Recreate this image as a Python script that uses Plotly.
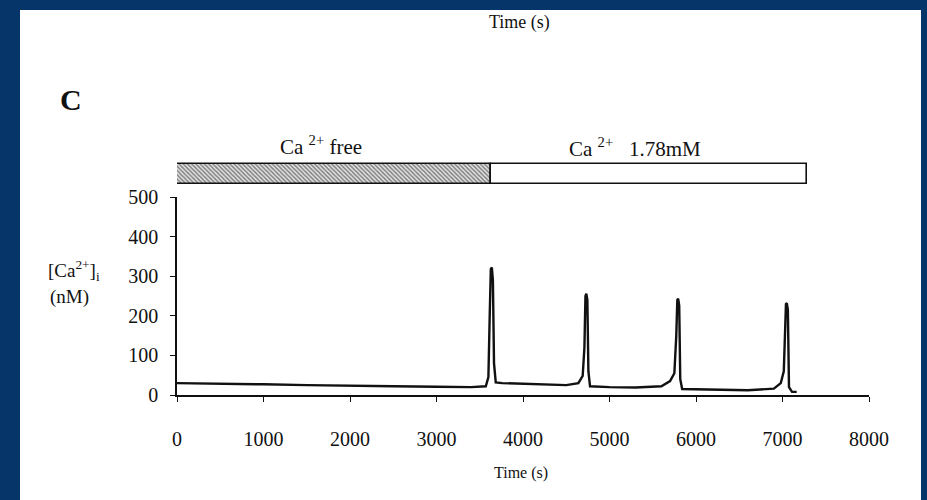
import plotly.graph_objects as go

# ---- data ----
time_s = [0, 500, 1000, 1500, 2000, 2500, 3000, 3400, 3570, 3600, 3615, 3628, 3640, 3652, 3665, 3685,
          3760, 4000, 4300, 4500, 4640, 4690, 4710, 4722, 4732, 4744, 4756, 4775,
          5000, 5300, 5600, 5700, 5750, 5772, 5784, 5794, 5806, 5818, 5840,
          6200, 6600, 6900, 6980, 7015, 7030, 7040, 7050, 7062, 7075, 7110, 7164]
ca_nM = [30, 29, 27, 25, 23, 22, 21, 20, 22, 45, 200, 318, 322, 290, 80, 32,
         30, 29, 26, 25, 30, 48, 120, 250, 256, 240, 60, 22,
         20, 19, 22, 35, 55, 150, 240, 243, 225, 40, 15,
         13, 12, 16, 30, 60, 180, 230, 232, 215, 20, 8, 8]

cond_labels = ["Ca <sup>2+</sup> free", "Ca <sup>2+</sup>   1.78mM"]
cond_start = [0, 3630]
cond_end = [3630, 7280]

x_ticks = [0, 1000, 2000, 3000, 4000, 5000, 6000, 7000, 8000]
y_ticks = [0, 100, 200, 300, 400, 500]

SERIF = "Liberation Serif"
INK = "#111111"

# pixel geometry helpers (plot area: x 177..869, y 140..395)
PL, PR, PT, PB = 177, 869, 140, 395
def px(x):
    return (x - PL) / (PR - PL)
def py(y):
    return (PB - y) / (PB - PT)

fig = go.Figure()

fig.add_trace(go.Scatter(x=time_s, y=ca_nM, mode="lines",
                         line=dict(color=INK, width=2.4), showlegend=False,
                         hoverinfo="skip", cliponaxis=False))

# condition bars
patterns = ["\\", ""]
for i in range(len(cond_start)):
    fig.add_trace(go.Bar(
        x=[cond_end[i] - cond_start[i]], base=[cond_start[i]], y=[0],
        orientation="h", width=1, yaxis="y2", showlegend=False, hoverinfo="skip",
        marker=dict(color="white", line=dict(color=INK, width=1.6),
                    pattern=dict(shape=patterns[i], fgcolor="#1a1a1a", bgcolor="#e6e6e6",
                                 size=3, solidity=0.5)),
    ))

annotations = [
    dict(text="Time (s)", x=px(519), y=py(22), xref="paper", yref="paper",
         xanchor="center", yanchor="middle", showarrow=False,
         font=dict(family=SERIF, size=18, color=INK)),
    dict(text="<b>C</b>", x=px(71), y=py(100), xref="paper", yref="paper",
         xanchor="center", yanchor="middle", showarrow=False,
         font=dict(family=SERIF, size=30, color=INK)),
    dict(text="[Ca<sup>2+</sup>]<sub>i</sub>", x=px(74), y=py(270), xref="paper", yref="paper",
         xanchor="center", yanchor="middle", showarrow=False,
         font=dict(family=SERIF, size=19, color=INK)),
    dict(text="(nM)", x=px(69), y=py(297), xref="paper", yref="paper",
         xanchor="center", yanchor="middle", showarrow=False,
         font=dict(family=SERIF, size=19, color=INK)),
    dict(text="Time (s)", x=px(521), y=py(473), xref="paper", yref="paper",
         xanchor="center", yanchor="middle", showarrow=False,
         font=dict(family=SERIF, size=16, color=INK)),
    dict(text=cond_labels[0], x=1660, y=py(145), xref="x", yref="paper",
         xanchor="center", yanchor="middle", showarrow=False,
         font=dict(family=SERIF, size=21, color=INK)),
    dict(text=cond_labels[1], x=5300, y=py(147), xref="x", yref="paper",
         xanchor="center", yanchor="middle", showarrow=False,
         font=dict(family=SERIF, size=21, color=INK)),
]

shapes = [
    dict(type="rect", xref="paper", yref="paper",
         x0=px(20), x1=px(921), y0=py(505), y1=py(10),
         fillcolor="white", line=dict(width=0), layer="below"),
]

# bar row: bar occupies y 164..184 px; axis range [-0.6, 0.6] with bar width 1
bar_top, bar_bot = 164, 184
pad = (bar_bot - bar_top) * 0.1
fig.update_layout(
    width=927, height=500,
    margin=dict(l=PL, r=927 - PR, t=PT, b=500 - PB),
    paper_bgcolor="#063669", plot_bgcolor="rgba(0,0,0,0)",
    bargap=0, barmode="overlay",
    annotations=annotations, shapes=shapes,
    xaxis=dict(range=[0, 8000], tickvals=x_ticks, ticktext=[str(v) for v in x_ticks],
               showline=True, linecolor=INK, linewidth=1.5, ticks="outside", ticklen=5,
               tickcolor=INK, showgrid=False, zeroline=False, ticklabelstandoff=20,
               tickfont=dict(family=SERIF, size=20, color=INK), anchor="y"),
    yaxis=dict(domain=[0, py(197)], range=[0, 500], tickvals=y_ticks,
               showline=True, linecolor=INK, linewidth=1.5, ticks="outside", ticklen=5,
               tickcolor=INK, showgrid=False, zeroline=False, ticklabelstandoff=8,
               tickfont=dict(family=SERIF, size=20, color=INK)),
    yaxis2=dict(domain=[py(bar_bot + pad), py(bar_top - pad)], range=[-0.6, 0.6],
                visible=False, anchor="x"),
)

fig.write_html("out.html", config={"displayModeBar": False},
               post_script="document.body.style.margin='0';")
